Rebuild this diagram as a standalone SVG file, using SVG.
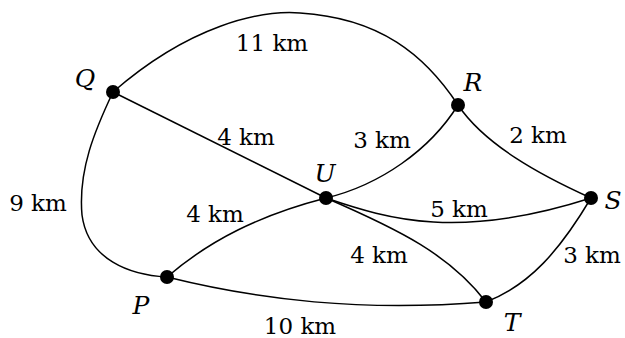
<svg xmlns="http://www.w3.org/2000/svg" width="625" height="338" viewBox="0 0 625 338">
<style>
.e{fill:none;stroke:#000;stroke-width:1.5}
.n{fill:#000}
.t{font-family:'DejaVu Serif',serif;font-size:23px;fill:#000}
.v{font-family:'DejaVu Serif',serif;font-size:25px;font-style:italic;fill:#000}
</style>
<rect width="625" height="338" fill="#fff"/>
<g id="connectors">
<path class="e" d="M113,92 C190,25 260,10 300,13 C380,18 425,55 458,105"/>
<path class="e" d="M113,92 L326,198"/>
<path class="e" d="M113,92 C95,130 78,170 82,215 C88,260 130,275 167,277"/>
<path class="e" d="M458,105 C430,150 380,185 326,198"/>
<path class="e" d="M458,105 C485,145 540,175 591,198"/>
<path class="e" d="M326,198 C390,220 460,240 591,198"/>
<path class="e" d="M326,198 C260,215 210,240 167,277"/>
<path class="e" d="M326,198 C400,230 450,255 486,302"/>
<path class="e" d="M167,277 C260,300 360,312 486,302"/>
<path class="e" d="M591,198 C560,250 530,285 486,302"/>
</g>
<g id="Q"><circle class="n" cx="113" cy="92" r="7"/><text class="v" x="85" y="87" text-anchor="middle">Q</text></g>
<g id="R"><circle class="n" cx="458" cy="105" r="7"/><text class="v" x="473" y="91" text-anchor="middle">R</text></g>
<g id="U"><circle class="n" cx="326" cy="198" r="7"/><text class="v" x="325" y="182" text-anchor="middle">U</text></g>
<g id="S"><circle class="n" cx="591" cy="198" r="7"/><text class="v" x="613" y="209" text-anchor="middle">S</text></g>
<g id="P"><circle class="n" cx="167" cy="277" r="7"/><text class="v" x="141" y="314" text-anchor="middle">P</text></g>
<g id="T"><circle class="n" cx="486" cy="302" r="7"/><text class="v" x="512" y="331" text-anchor="middle">T</text></g>
<g id="labels">
<text class="t" x="272" y="51" text-anchor="middle">11 km</text>
<text class="t" x="246" y="145" text-anchor="middle">4 km</text>
<text class="t" x="382" y="148" text-anchor="middle">3 km</text>
<text class="t" x="538" y="143" text-anchor="middle">2 km</text>
<text class="t" x="38" y="211" text-anchor="middle">9 km</text>
<text class="t" x="215" y="222" text-anchor="middle">4 km</text>
<text class="t" x="459" y="217" text-anchor="middle">5 km</text>
<text class="t" x="379" y="263" text-anchor="middle">4 km</text>
<text class="t" x="592" y="263" text-anchor="middle">3 km</text>
<text class="t" x="300" y="334" text-anchor="middle">10 km</text>
</g>
</svg>
